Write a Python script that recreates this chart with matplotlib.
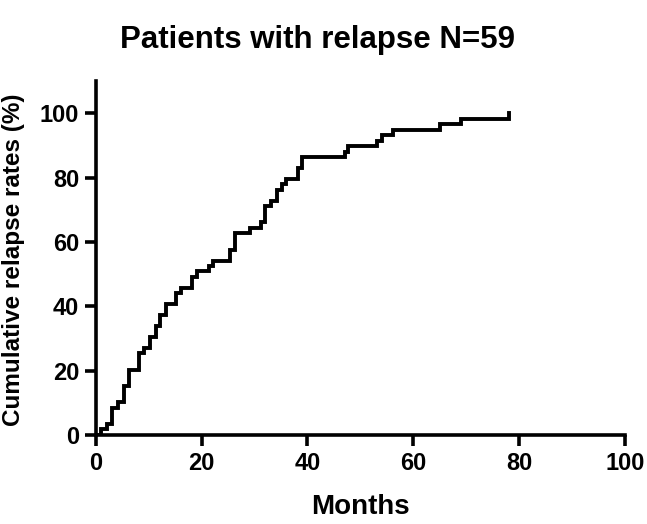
import matplotlib
matplotlib.use("Agg")
import matplotlib.pyplot as plt
import numpy as np

plt.rcParams['font.family'] = ['Liberation Sans', 'DejaVu Sans']
plt.rcParams['font.weight'] = 'bold'

# Event times (months) and cumulative number of relapses at each step (N=59)
times = [0.0, 0.9, 2.1, 3.1, 4.2, 5.3, 6.2, 8.1, 9.1, 10.2, 11.3, 12.2, 13.2, 15.1, 16.1,
         18.2, 19.1, 21.4, 22.2, 25.3, 26.3, 29.1, 31.3, 31.9, 33.2, 34.2, 35.1, 36.0,
         38.2, 38.9, 47.1, 47.7, 53.1, 54.0, 56.1, 65.0, 69.1, 78.0]
counts = [0, 1, 2, 5, 6, 9, 12, 15, 16, 18, 20, 22, 24, 26, 27,
          29, 30, 31, 32, 34, 37, 38, 39, 42, 43, 45, 46, 47,
          49, 51, 52, 53, 54, 55, 56, 57, 58, 59]
n_total = 59

x_ticks = [0, 20, 40, 60, 80, 100]
y_ticks = [0, 20, 40, 60, 80, 100]

rates = [100.0 * c / n_total for c in counts]

fig = plt.figure(figsize=(6.47, 5.24), dpi=100)
ax = fig.add_axes([0.148, 0.170, 0.818, 0.675])

ax.step(times, rates, where='post', color='black', lw=2.8, solid_joinstyle='miter')

ax.set_xlim(0, 100)
ax.set_ylim(0, 110)
ax.set_xticks(x_ticks)
ax.set_yticks(y_ticks)
ax.spines['top'].set_visible(False)
ax.spines['right'].set_visible(False)
for s in ['left', 'bottom']:
    ax.spines[s].set_linewidth(2.6)
ax.tick_params(axis='both', width=2.6, length=8, labelsize=17, pad=4)
for lab in ax.get_xticklabels() + ax.get_yticklabels():
    lab.set_fontweight('bold')

xl = ax.set_xlabel('Months', fontsize=20, fontweight='bold')
xl.set_va('center')
ax.xaxis.set_label_coords(0.5, -0.205)
yl = ax.set_ylabel('Cumulative relapse rates (%)', fontsize=17.5, fontweight='bold')
yl.set_va('center')
ax.yaxis.set_label_coords(-0.155, 0.495)
fig.text(0.49, 0.924, 'Patients with relapse N=59', ha='center', va='center',
         fontsize=22.5, fontweight='bold')

fig.savefig('out.png', dpi=100)
